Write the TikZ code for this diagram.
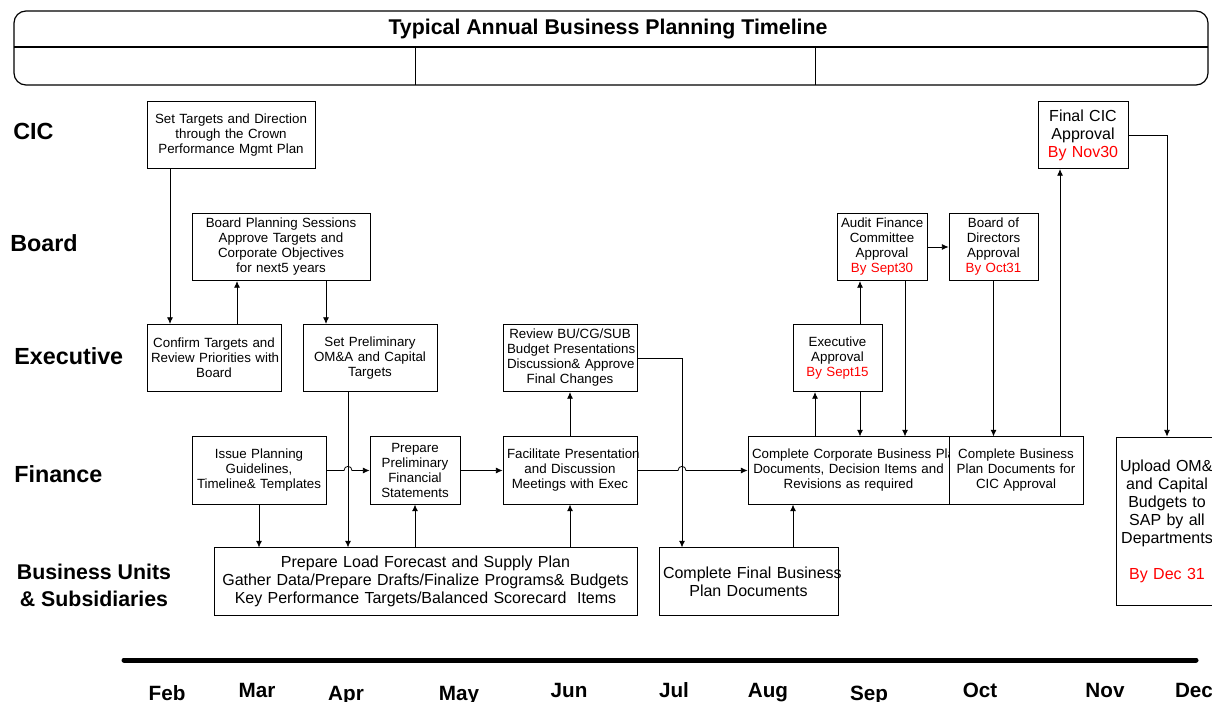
\documentclass[tikz,border=0pt]{standalone}
\usepackage{fontspec}
\setmainfont{Liberation Sans}
\usetikzlibrary{arrows.meta}

% deadline text inside the approval boxes
\newcommand{\bydate}[1]{\textcolor{red}{#1}}

\begin{document}
\begin{tikzpicture}[x=0.75pt, y=-0.75pt,
    box/.style={draw, fill=white, line width=0.6pt, align=center, inner xsep=3pt, inner ysep=1pt,
        minimum height=50.5pt, font=\fontsize{10}{11.25}\selectfont},
    bigbox/.style={box, font=\fontsize{12}{13.5}\selectfont},
    lane/.style={anchor=base west, inner sep=0pt, font=\fontsize{17.5}{21}\selectfont\bfseries},
    month/.style={anchor=base, inner sep=0pt, font=\fontsize{15.5}{18}\selectfont\bfseries},
    arr/.style={-{Latex[length=5pt,width=4.5pt]}, line width=0.6pt},
    link/.style={line width=0.6pt}]

    \useasboundingbox (0,0) rectangle (1212,702);
    \clip (0,0) rectangle (1212,702);

    % Title band
    \draw[line width=0.9pt, rounded corners=9pt] (14,11) rectangle (1208,85);
    \draw[line width=0.9pt] (14,47) -- (1208,47);
    \draw[link] (415,47) -- (415,85);
    \draw[link] (815,47) -- (815,85);
    \node[font=\fontsize{16}{19}\selectfont\bfseries] (title) at (608,29) {Typical Annual Business Planning Timeline};

    % Swim lane labels
    \node[lane] (lcic) at (13,140) {CIC};
    \node[lane] (lboard) at (10,252) {Board};
    \node[lane] (lexec) at (14,364) {Executive};
    \node[lane] (lfin) at (14,482) {Finance};
    \node[lane, anchor=center, align=center, font=\fontsize{16}{20.25}\selectfont\bfseries] (lbu) at (94,585)
        {Business Units\\\& Subsidiaries};

    % CIC row
    \node[box, text width=120pt] (cicset) at (231,135)
        {Set Targets and Direction\\through the Crown\\Performance Mgmt Plan};
    \node[bigbox, text width=61.5pt] (cicok) at (1083,135)
        {Final CIC\\Approval\\\bydate{By Nov30}};

    % Board row
    \node[box, text width=127.5pt] (brdplan) at (281,247)
        {Board Planning Sessions\\Approve Targets and\\Corporate Objectives\\for next5 years};
    \node[box, text width=61.5pt] (auditok) at (882,247)
        {\mbox{Audit Finance}\\Committee\\Approval\\\bydate{By Sept30}};
    \node[box, text width=60.75pt] (boardok) at (993.5,247)
        {Board of\\Directors\\Approval\\\bydate{By Oct31}};

    % Executive row
    \node[box, text width=94.5pt] (confirm) at (214,358)
        {Confirm Targets and\\\mbox{Review Priorities with}\\Board};
    \node[box, text width=94.5pt] (omcap) at (370,358)
        {Set Preliminary\\OM\&A and Capital\\Targets};
    \node[box, text width=94.5pt] (review) at (570,358)
        {Review BU/CG/SUB\\\mbox{Budget Presentations}\\\mbox{Discussion\& Approve}\\Final Changes};
    \node[box, text width=60.75pt] (execok) at (837.5,358)
        {Executive\\Approval\\\bydate{By Sept15}};

    % Finance row
    \node[box, text width=94.5pt] (issue) at (259,470.5)
        {Issue Planning\\Guidelines,\\\mbox{Timeline\& Templates}};
    \node[box, text width=61.5pt] (prelim) at (415,470.5)
        {Prepare\\Preliminary\\Financial\\Statements};
    \node[box, text width=94.5pt] (facil) at (570,470.5)
        {\mbox{Facilitate Presentation}\\and Discussion\\\mbox{Meetings with Exec}};
    \node[box, text width=144.75pt] (corpbp) at (848.5,470.5)
        {\mbox{Complete Corporate Business Plan}\\\mbox{Documents, Decision Items and}\\Revisions as required};
    \node[box, text width=94.5pt] (cicdoc) at (1016,470.5)
        {Complete Business\\\mbox{Plan Documents for}\\CIC Approval};
    \node[bigbox, text width=70.5pt, minimum height=126pt] (upload) at (1167,521)
        {\mbox{Upload OM\&A}\\and Capital\\Budgets to\\SAP by all\\\mbox{Departments}\\[13.5pt]\bydate{By Dec 31}};

    % Business units row
    \node[bigbox, text width=311.25pt] (loadfc) at (425.5,581.5)
        {Prepare Load Forecast and Supply Plan\\\mbox{Gather Data/Prepare Drafts/Finalize Programs\& Budgets}\\\mbox{Key Performance Targets/Balanced Scorecard\ \ Items}};
    \node[bigbox, text width=128.25pt] (finaldoc) at (748.5,581.5)
        {\mbox{Complete Final Business}\\Plan Documents};

    % Early year flow
    \draw[arr] (cicset.south -| 170,0) -- (confirm.north -| 170,0);
    \draw[arr] (confirm.north -| 237,0) -- (brdplan.south -| 237,0);
    \draw[arr] (brdplan.south -| 326,0) -- (omcap.north -| 326,0);
    \draw[arr] (omcap.south -| 348,0) -- (loadfc.north -| 348,0);
    \draw[arr] (issue.south) -- (loadfc.north -| issue.south);
    \draw[arr] (issue.east) -- (issue.east -| 344,0)
        .. controls +(0,-5.5) and +(0,-5.5) .. (issue.east -| 352,0) -- (prelim.west);
    \draw[arr] (loadfc.north -| prelim.south) -- (prelim.south);
    \draw[arr] (loadfc.north -| facil.south) -- (facil.south);
    \draw[arr] (prelim.east) -- (facil.west);
    \draw[arr] (facil.north) -- (review.south);

    % Budget review and final documents
    \draw[arr] (review.east) -| (finaldoc.north -| 682,0);
    \draw[arr] (facil.east) -- (facil.east -| 678,0)
        .. controls +(0,-5.5) and +(0,-5.5) .. (facil.east -| 686,0) -- (corpbp.west);
    \draw[arr] (finaldoc.north -| 793,0) -- (corpbp.south -| 793,0);

    % Approval chain
    \draw[arr] (corpbp.north -| 815,0) -- (execok.south -| 815,0);
    \draw[arr] (execok.south -| 860,0) -- (corpbp.north -| 860,0);
    \draw[arr] (execok.north -| 860,0) -- (auditok.south -| 860,0);
    \draw[arr] (auditok.south -| 905,0) -- (corpbp.north -| 905,0);
    \draw[arr] (auditok.east) -- (boardok.west);
    \draw[arr] (boardok.south) -- (cicdoc.north -| boardok.south);
    \draw[arr] (cicdoc.north -| 1060,0) -- (cicok.south -| 1060,0);
    \draw[arr] (cicok.east) -| (upload.north);

    % Timeline axis
    \draw[line width=3.75pt, line cap=round] (124,660) -- (1196,660);
    \foreach \m/\x/\y in {Feb/167/700, Mar/257/697, Apr/346/700, May/459/700, Jun/569/697,
                          Jul/674/697, Aug/768/697, Sep/869/700, Oct/980/697, Nov/1105/697, Dec/1194/697}
        \node[month] (m\m) at (\x,\y) {\m};

\end{tikzpicture}
\end{document}
